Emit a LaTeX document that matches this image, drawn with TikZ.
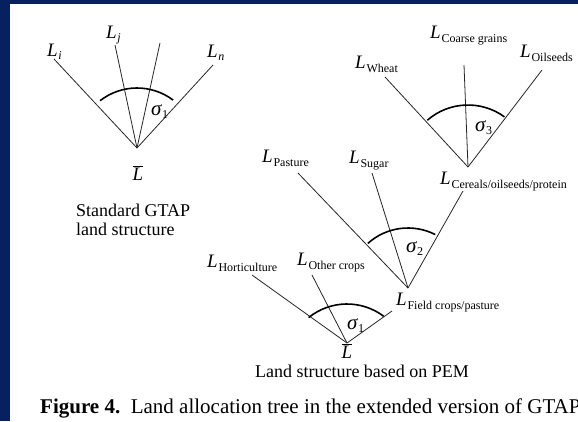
\documentclass[tikz,border=0pt]{standalone}
\usepackage{fontspec}
\setmainfont{Liberation Serif}
\definecolor{navy}{RGB}{6,32,96}
\newcommand{\Lname}[1]{\textit{L}\kern0.8pt\raisebox{-4pt}{\fontsize{12}{12}\selectfont #1}}
\newcommand{\Lvar}[1]{\textit{L}\kern0.5pt\raisebox{-3.5pt}{\fontsize{12}{12}\selectfont\textit{#1}}}
\newcommand{\sig}[1]{{\fontsize{21}{22}\selectfont\textit{σ}}\raisebox{-3pt}{\fontsize{12}{12}\selectfont #1}}
\newcommand{\Lbar}{\(\overline{\mbox{\textit{L}}}\)}
\begin{document}
\begin{tikzpicture}[x=1pt,y=-1pt,
  lbl/.style={anchor=base west, inner sep=0pt, font=\fontsize{19}{20}\selectfont},
  txt/.style={anchor=base west, inner sep=0pt, font=\fontsize{18}{19}\selectfont},
  branch/.style={line width=0.8pt, black!85},
  elas/.style={line width=1.6pt, black}]
\useasboundingbox (0,0) rectangle (578,421);
\fill[white] (0,0) rectangle (578,421);
\fill[navy] (0,0) rectangle (578,4);
\fill[navy] (0,0) rectangle (10,421);
\begin{scope}
\clip (0,0) rectangle (578,421);
% ---- standard GTAP tree
\coordinate (A) at (137,148);
\coordinate (Ai) at (54,59);
\coordinate (Aj) at (115,45);
\coordinate (Ak) at (160,43);
\coordinate (An) at (213,65);
\foreach \e in {Ai,Aj,Ak,An} \draw[branch] (A) -- (\e);
\draw[elas] (A) ++(-128:60) arc[start angle=-128, end angle=-53, radius=60];
\node[lbl] (Li) at (47,56) {\Lvar{i}};
\node[lbl] (Lj) at (106,38) {\Lvar{j}};
\node[lbl] (Ln) at (207,57) {\Lvar{n}};
\node[lbl] (s1a) at (151,115) {\sig{1}};
\node[lbl, anchor=base] (LbarA) at (138,180) {\Lbar};
\node[txt] (std1) at (76,216) {Standard GTAP};
\node[txt] (std2) at (76,235) {land structure};
% ---- cereals tree
\coordinate (C) at (468,167);
\coordinate (Cw) at (385,77);
\coordinate (Cc) at (464,65);
\coordinate (Co) at (542,70);
\foreach \e in {Cw,Cc,Co} \draw[branch] (C) -- (\e);
\draw[elas] (C) ++(-131:62) arc[start angle=-131, end angle=-54, radius=62];
\node[lbl] (Lw) at (355,68) {\Lname{Wheat}};
\node[lbl] (Lc) at (430,38) {\Lname{Coarse grains}};
\node[lbl] (Lo) at (520,57) {\Lname{Oilseeds}};
\node[lbl] (Lcer) at (440,184) {\Lname{Cereals/oilseeds/protein}};
\node[lbl] (s3) at (475,131) {\sig{3}};
% ---- field crops tree
\coordinate (B) at (408,288);
\coordinate (Bp) at (298,173);
\coordinate (Bs) at (372,173);
\coordinate (Bc) at (463,191);
\foreach \e in {Bp,Bs,Bc} \draw[branch] (B) -- (\e);
\draw[elas] (B) ++(-132:60) arc[start angle=-132, end angle=-63, radius=60];
\node[lbl] (Lp) at (262,162) {\Lname{Pasture}};
\node[lbl] (Ls) at (349,163) {\Lname{Sugar}};
\node[lbl] (s2) at (406,252) {\sig{2}};
\node[lbl] (Lf) at (396,305) {\Lname{Field crops/pasture}};
% ---- PEM root tree
\coordinate (D) at (347,343);
\coordinate (Dh) at (252,275);
\coordinate (Do) at (312,275);
\coordinate (Df) at (392,311);
\coordinate (Dc) at (347,365);
\foreach \e in {Dh,Do,Df} \draw[branch] (D) -- (\e);
\draw[elas] (Dc) ++(-129:61) arc[start angle=-129, end angle=-53, radius=61];
\node[lbl] (Lh) at (207,267) {\Lname{Horticulture}};
\node[lbl] (Lot) at (297,265) {\Lname{Other crops}};
\node[lbl] (s1b) at (347,329) {\sig{1}};
\node[lbl, anchor=base] (LbarD) at (347,358) {\Lbar};
\node[txt, anchor=base] (pem) at (362,377) {Land structure based on PEM};
% ---- caption
\node[anchor=base west, inner sep=0pt, font=\fontsize{21}{22}\selectfont] (cap) at (40,413)
  {\textbf{Figure 4.}\ \ Land allocation tree in the extended version of GTAP};
\end{scope}
\end{tikzpicture}
\end{document}
